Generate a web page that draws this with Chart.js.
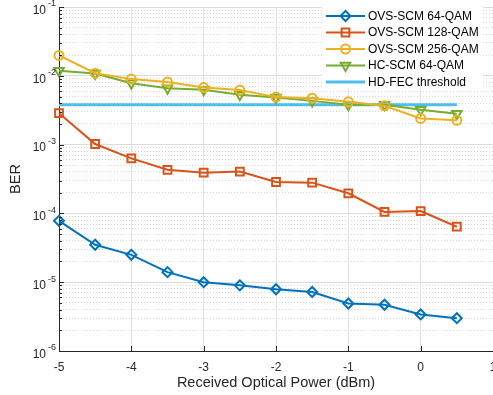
<!DOCTYPE html>
<html>
<head>
<meta charset="utf-8">
<script src="https://cdn.jsdelivr.net/npm/chart.js@4/dist/chart.umd.min.js"></script>
<style>
  html, body { margin: 0; padding: 0; background: #fff; }
  #wrap { width: 493px; height: 395px; }
</style>
</head>
<body>
<div id="wrap"><canvas id="ber-chart"></canvas></div>
<script>
// Received optical power (dBm)
const powers = [-5, -4.5, -4, -3.5, -3, -2.5, -2, -1.5, -1, -0.5, 0, 0.5];

// BER per scheme
const ovs64 = [7.8e-5, 3.5e-5, 2.5e-5, 1.4e-5, 1.0e-5, 9.0e-6, 7.9e-6, 7.2e-6, 4.9e-6, 4.7e-6, 3.4e-6, 3.0e-6];
const ovs128 = [2.86e-3, 1.02e-3, 6.3e-4, 4.3e-4, 3.9e-4, 4.05e-4, 2.86e-4, 2.8e-4, 1.96e-4, 1.05e-4, 1.08e-4, 6.4e-5];
const ovs256 = [1.98e-2, 1.09e-2, 8.95e-3, 8.1e-3, 6.75e-3, 6.2e-3, 4.9e-3, 4.73e-3, 4.18e-3, 3.66e-3, 2.4e-3, 2.26e-3];
const hc64 = [1.18e-2, 1.08e-2, 7.8e-3, 6.6e-3, 6.25e-3, 5.3e-3, 4.85e-3, 4.32e-3, 3.8e-3, 3.78e-3, 3.2e-3, 2.8e-3];

// HD-FEC limit and its span
const fecLevel = 3.8e-3;
const fecSpan = [-5, 0.5];

// axes
const xTicks = [-5, -4, -3, -2, -1, 0, 1];
const decades = [-6, -5, -4, -3, -2, -1];

const axisColor = '#262626';
const fontFamily = '"Liberation Sans", Arial, Helvetica, sans-serif';

function toPoints(ys) {
  return powers.map((p, i) => ({ x: p, y: ys[i] }));
}

// major ticks at each decade, minor at 2..9
function logTicks() {
  const ticks = [];
  decades.forEach((d, i) => {
    ticks.push({ value: 10 ** d, major: true });
    if (i < decades.length - 1) {
      for (let m = 2; m <= 9; m++) ticks.push({ value: m * 10 ** d, major: false });
    }
  });
  return ticks;
}

// inward tick marks + superscript y labels
const axisDecor = {
  id: 'axisDecor',
  afterDraw(chart) {
    const { ctx, chartArea: a, scales: { x, y } } = chart;
    ctx.save();
    ctx.strokeStyle = axisColor;
    ctx.lineWidth = 1;
    ctx.beginPath();
    y.ticks.forEach(t => {
      const py = Math.round(y.getPixelForValue(t.value)) + 0.5;
      ctx.moveTo(a.left, py);
      ctx.lineTo(a.left + (t.major ? 5 : 3), py);
    });
    x.ticks.forEach(t => {
      const px = Math.round(x.getPixelForValue(t.value)) + 0.5;
      ctx.moveTo(px, a.bottom);
      ctx.lineTo(px, a.bottom - 5);
    });
    ctx.stroke();

    ctx.fillStyle = axisColor;
    ctx.textBaseline = 'middle';
    ctx.textAlign = 'right';
    decades.forEach(d => {
      const py = y.getPixelForValue(10 ** d);
      const sup = String(d);
      ctx.font = '9px ' + fontFamily;
      ctx.fillText(sup, a.left - 3, py - 3);
      const supW = ctx.measureText(sup).width;
      ctx.font = '12px ' + fontFamily;
      ctx.fillText('10', a.left - 5 - supW, py + 3.5);
    });
    ctx.restore();
  }
};

// legend box in the top right corner of the plot
const berLegend = {
  id: 'berLegend',
  afterDraw(chart) {
    const { ctx, chartArea: a } = chart;
    const left = a.right - 171;
    const top = a.top - 1;
    ctx.save();
    ctx.fillStyle = '#fff';
    ctx.fillRect(left, top, 161, 82);
    ctx.font = '12px ' + fontFamily;
    ctx.textBaseline = 'middle';
    ctx.textAlign = 'left';
    chart.data.datasets.forEach((ds, i) => {
      const yy = top + 10 + i * 16.5;
      ctx.strokeStyle = ds.borderColor;
      ctx.lineWidth = ds.borderWidth;
      ctx.beginPath();
      ctx.moveTo(left + 4, yy);
      ctx.lineTo(left + 43, yy);
      ctx.stroke();
      if (ds.pointRadius) {
        ctx.fillStyle = 'rgba(0,0,0,0)';
        ctx.lineWidth = ds.pointBorderWidth;
        Chart.helpers.drawPoint(ctx, {
          pointStyle: ds.pointStyle,
          radius: ds.pointRadius,
          rotation: ds.pointRotation || 0,
          borderWidth: ds.pointBorderWidth
        }, left + 23.5, yy);
      }
      ctx.fillStyle = '#000';
      ctx.fillText(ds.label, left + 46, yy + 0.5);
    });
    ctx.restore();
  }
};

function series(label, ys, color, style, radius, rotation) {
  return {
    label,
    data: toPoints(ys),
    borderColor: color,
    backgroundColor: color,
    borderWidth: 2,
    pointStyle: style,
    pointRadius: radius,
    pointHoverRadius: radius,
    pointRotation: rotation || 0,
    pointBorderWidth: 2,
    pointBackgroundColor: 'rgba(0,0,0,0)',
    pointBorderColor: color,
    clip: false
  };
}

new Chart(document.getElementById('ber-chart'), {
  type: 'line',
  data: {
    datasets: [
      series('OVS-SCM 64-QAM', ovs64, '#0072BD', 'rectRot', 5),
      series('OVS-SCM 128-QAM', ovs128, '#D95319', 'rect', 5.5),
      series('OVS-SCM 256-QAM', ovs256, '#EDB120', 'circle', 4.5),
      series('HC-SCM 64-QAM', hc64, '#77AC30', 'triangle', 5.5, 180),
      {
        label: 'HD-FEC threshold',
        data: fecSpan.map(p => ({ x: p, y: fecLevel })),
        borderColor: '#4DBEEE',
        backgroundColor: '#4DBEEE',
        borderWidth: 3,
        pointRadius: 0,
        pointHoverRadius: 0,
        clip: false
      }
    ]
  },
  options: {
    responsive: true,
    maintainAspectRatio: false,
    animation: false,
    layout: { autoPadding: false, padding: { top: 7, right: 0, left: 0, bottom: 0 } },
    plugins: {
      legend: { display: false },
      tooltip: { enabled: false }
    },
    elements: { line: { tension: 0 } },
    scales: {
      x: {
        type: 'linear',
        min: -5,
        max: 1,
        afterBuildTicks: scale => { scale.ticks = xTicks.map(v => ({ value: v })); },
        afterFit: scale => {
          scale.height = 44;
          scale.paddingLeft = 0;
          scale.paddingRight = 0;
        },
        ticks: {
          autoSkip: false,
          maxRotation: 0,
          padding: 9,
          color: axisColor,
          font: { family: fontFamily, size: 12 },
          callback: v => String(v)
        },
        grid: { color: '#e3e3e3', lineWidth: 1, drawTicks: false },
        border: { color: axisColor, width: 1 },
        title: {
          display: true,
          text: 'Received Optical Power (dBm)',
          color: axisColor,
          font: { family: fontFamily, size: 14.5 },
          padding: { top: 0, bottom: 3 }
        }
      },
      y: {
        type: 'logarithmic',
        min: 1e-6,
        max: 1e-1,
        afterBuildTicks: scale => { scale.ticks = logTicks(); },
        afterFit: scale => {
          scale.width = 59;
          scale.paddingTop = 0;
          scale.paddingBottom = 0;
        },
        ticks: {
          autoSkip: false,
          color: axisColor,
          font: { family: fontFamily, size: 12 },
          callback: () => ''
        },
        grid: {
          color: ctx => (ctx.tick && ctx.tick.major) ? '#dcdcdc' : '#d8d8d8',
          lineWidth: 1,
          drawTicks: false
        },
        border: {
          color: axisColor,
          width: 1,
          dash: ctx => (ctx.tick && !ctx.tick.major) ? [1, 2] : []
        },
        title: {
          display: true,
          text: 'BER',
          color: axisColor,
          font: { family: fontFamily, size: 14.5 },
          padding: { top: 7, bottom: 0 }
        }
      }
    }
  },
  plugins: [axisDecor, berLegend]
});
</script>
</body>
</html>
